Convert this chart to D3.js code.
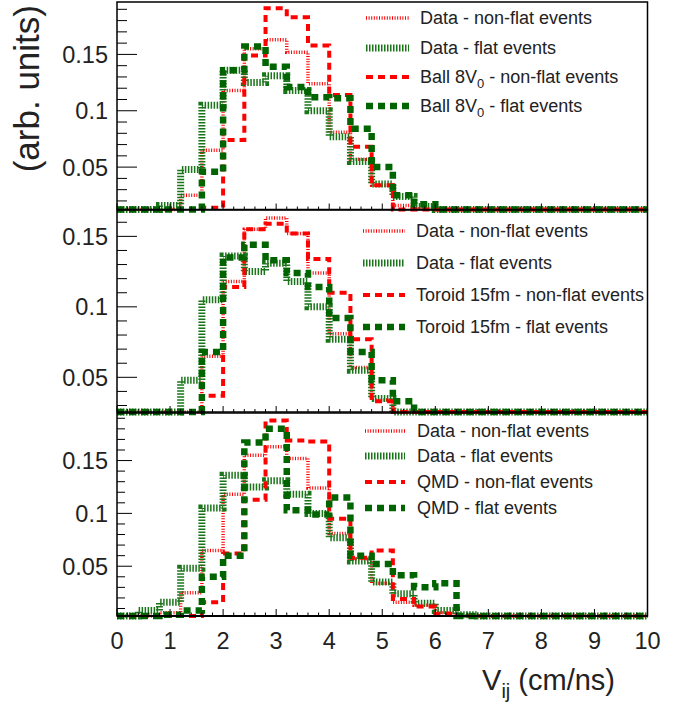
<!DOCTYPE html>
<html>
<head>
<meta charset="utf-8">
<script src="https://cdn.jsdelivr.net/npm/d3@7/dist/d3.min.js"></script>
<style>
  body { margin: 0; background: #fff; }
  svg  { display: block; font-family: "Liberation Sans", Arial, Helvetica, sans-serif; }
</style>
</head>
<body>
<svg id="chart" width="691" height="704"></svg>
<script>
// ── Data (25 bins of 0.4 cm/ns from 0 to 10) ───────────────────────────────
const BIN_WIDTH = 0.4;
const X_DOMAIN  = [0, 10];

const dataNonFlat = [0.001, 0.002, 0.006, 0.025, 0.065, 0.118, 0.155, 0.163, 0.152, 0.124,
                     0.081, 0.057, 0.034, 0.016, 0.013, 0.006, 0.003, 0.001, 0.001, 0.0005,
                     0, 0, 0, 0, 0];
const dataFlat    = [0.002, 0.008, 0.016, 0.048, 0.105, 0.136, 0.125, 0.131, 0.118, 0.100,
                     0.077, 0.055, 0.035, 0.024, 0.015, 0.008, 0.004, 0.002, 0.001, 0.001,
                     0, 0, 0, 0, 0];

const ballNonFlat   = [0, 0, 0.002, 0.006, 0.014, 0.074, 0.149, 0.191, 0.183, 0.158,
                       0.114, 0.068, 0.034, 0.008, 0.003, 0.001, 0, 0, 0, 0, 0, 0, 0, 0, 0];
const ballFlat      = [0.002, 0.003, 0.004, 0.008, 0.046, 0.136, 0.157, 0.139, 0.121, 0.112,
                       0.111, 0.084, 0.050, 0.025, 0.017, 0.004, 0.002, 0.001, 0, 0, 0, 0, 0, 0, 0];

const toroidNonFlat = [0, 0, 0.001, 0.004, 0.037, 0.114, 0.155, 0.159, 0.152, 0.134,
                       0.110, 0.077, 0.033, 0.015, 0.006, 0.002, 0, 0, 0, 0, 0, 0, 0, 0, 0];
const toroidFlat    = [0, 0.001, 0.003, 0.012, 0.068, 0.135, 0.144, 0.133, 0.124, 0.114,
                       0.092, 0.068, 0.048, 0.033, 0.012, 0.004, 0.001, 0, 0, 0, 0, 0, 0, 0, 0];

const qmdNonFlat    = [0, 0, 0.001, 0.002, 0.016, 0.062, 0.113, 0.188, 0.169, 0.168,
                       0.095, 0.058, 0.065, 0.019, 0.012, 0.005, 0.003, 0.001, 0, 0, 0, 0, 0, 0, 0];
const qmdFlat       = [0.001, 0.002, 0.004, 0.008, 0.040, 0.060, 0.167, 0.180, 0.103, 0.099,
                       0.115, 0.060, 0.052, 0.0415, 0.030, 0.034, 0.002, 0.001, 0, 0, 0, 0, 0, 0, 0];

const modelNames   = ["Ball 8V_0", "Toroid 15fm", "QMD"];
const modelNonFlat = [ballNonFlat, toroidNonFlat, qmdNonFlat];
const modelFlat    = [ballFlat, toroidFlat, qmdFlat];

// y ranges of the three pads (pads do not start at zero)
const yDomains    = [[0.0124, 0.1965], [0.0254, 0.1687], [0.0029, 0.195]];
const yMajorTicks = [0.05, 0.1, 0.15];
const yTickLabels = ["0.05", "0.1", "0.15"];
const xMajorTicks = d3.range(0, 11);
const xTickLabels = xMajorTicks.map(String);

// ── Styles ─────────────────────────────────────────────────────────────────
const RED   = "#ff0000";
const GREEN = "#006400";
const STYLE = {
  dataNonFlat:  { color: RED,       width: 3.5, dash: "1,1.6" },
  dataFlat:     { color: "#1a751a", width: 7,   dash: "1.5,1.5" },
  modelNonFlat: { color: RED,       width: 4,   dash: "7,5" },
  modelFlat:    { color: GREEN,     width: 6.5, dash: "7,5" },
};

// ── Layout ─────────────────────────────────────────────────────────────────
const LEFT = 117, RIGHT = 647.5;
const PADS = [
  { top: 2,   bottom: 209.5, yMaj: 20, yMin: 10, xMaj: 6, xMin: 3,
    legY: [18, 48, 77, 106],       legX0: 366, legX1: 409, legTx: 420 },
  { top: 210, bottom: 412,   yMaj: 20, yMin: 10, xMaj: 6, xMin: 3,
    legY: [231, 263, 295, 327],    legX0: 363, legX1: 405, legTx: 416 },
  { top: 413, bottom: 616,   yMaj: 15, yMin: 8,  xMaj: 7, xMin: 3.5,
    legY: [431, 456, 482, 508],    legX0: 365, legX1: 405, legTx: 417 },
];

const svg = d3.select("#chart");
const x = d3.scaleLinear().domain(X_DOMAIN).range([LEFT, RIGHT]);

function histPoints(values) {
  const pts = values.map((v, i) => [i * BIN_WIDTH, v]);
  pts.push([X_DOMAIN[1], values[values.length - 1]]);
  return pts;
}

function drawLegendText(g, lx, ly, label) {
  const t = g.append("text")
    .attr("x", lx).attr("y", ly).attr("dy", "0.36em")
    .attr("font-size", 18).attr("fill", "#222");
  const parts = label.split("_");
  if (parts.length === 2) {
    // subscript handling for "8V_0 - ..."
    const sub = parts[1].slice(0, 1), rest = parts[1].slice(1);
    t.append("tspan").text(parts[0]);
    t.append("tspan").attr("font-size", 13).attr("dy", 5).text(sub);
    t.append("tspan").attr("dy", -5).text(rest);
  } else {
    t.text(label);
  }
}

PADS.forEach((pad, p) => {
  const y = d3.scaleLinear().domain(yDomains[p]).range([pad.bottom, pad.top]).clamp(true);
  const g = svg.append("g");

  // histograms
  const series = [
    { values: dataNonFlat,     style: STYLE.dataNonFlat,  label: "Data - non-flat events" },
    { values: dataFlat,        style: STYLE.dataFlat,     label: "Data - flat events" },
    { values: modelNonFlat[p], style: STYLE.modelNonFlat, label: modelNames[p] + " - non-flat events" },
    { values: modelFlat[p],    style: STYLE.modelFlat,    label: modelNames[p] + " - flat events" },
  ];
  const line = d3.line().x(d => x(d[0])).y(d => y(d[1])).curve(d3.curveStepAfter);

  series.forEach(s => {
    g.append("path")
      .attr("d", line(histPoints(s.values)))
      .attr("fill", "none")
      .attr("stroke", s.style.color)
      .attr("stroke-width", s.style.width)
      .attr("stroke-dasharray", s.style.dash);
  });

  // legend (no border)
  series.forEach((s, i) => {
    g.append("line")
      .attr("x1", pad.legX0).attr("x2", pad.legX1)
      .attr("y1", pad.legY[i]).attr("y2", pad.legY[i])
      .attr("stroke", s.style.color)
      .attr("stroke-width", s.style.width)
      .attr("stroke-dasharray", s.style.dash);
    drawLegendText(g, pad.legTx, pad.legY[i], s.label);
  });

  // frame
  g.append("rect")
    .attr("x", LEFT).attr("y", pad.top)
    .attr("width", RIGHT - LEFT).attr("height", pad.bottom - pad.top)
    .attr("fill", "none").attr("stroke", "#000").attr("stroke-width", 1.5);

  // y ticks
  const yMinor = d3.range(0.01, 0.2, 0.01)
    .filter(v => v >= yDomains[p][0] && v <= yDomains[p][1]);
  g.selectAll(".ymin").data(yMinor).join("line")
    .attr("x1", LEFT).attr("x2", d => LEFT + (yMajorTicks.some(m => Math.abs(m - d) < 1e-6) ? pad.yMaj : pad.yMin))
    .attr("y1", d => y(d)).attr("y2", d => y(d))
    .attr("stroke", "#000").attr("stroke-width", 1);

  g.selectAll(".ylab").data(yMajorTicks).join("text")
    .attr("x", LEFT - 9).attr("y", d => y(d)).attr("dy", "0.36em")
    .attr("text-anchor", "end").attr("font-size", 23.5).attr("fill", "#222")
    .text((d, i) => yTickLabels[i]);

  // x ticks
  const xMinor = d3.range(0, 10.0001, 0.2);
  g.selectAll(".xt").data(xMinor).join("line")
    .attr("x1", d => x(d)).attr("x2", d => x(d))
    .attr("y1", pad.bottom)
    .attr("y2", d => pad.bottom - (Math.abs(d - Math.round(d)) < 1e-6 ? pad.xMaj : pad.xMin))
    .attr("stroke", "#000").attr("stroke-width", 1);

  if (p === PADS.length - 1) {
    g.append("line")
      .attr("x1", LEFT).attr("x2", RIGHT).attr("y1", pad.bottom).attr("y2", pad.bottom)
      .attr("stroke", "#000").attr("stroke-width", 2);
    g.selectAll(".xlab").data(xMajorTicks).join("text")
      .attr("x", d => x(d)).attr("y", pad.bottom + 33)
      .attr("text-anchor", "middle").attr("font-size", 23.5).attr("fill", "#222")
      .text((d, i) => xTickLabels[i]);
  }
});

// ── Axis titles ────────────────────────────────────────────────────────────
const xt = svg.append("text")
  .attr("x", 615).attr("y", 690)
  .attr("text-anchor", "end").attr("font-size", 29).attr("fill", "#222");
xt.append("tspan").text("V");
xt.append("tspan").attr("font-size", 20).attr("dy", 8).text("ij");
xt.append("tspan").attr("dy", -8).text(" (cm/ns)");

svg.append("text")
  .attr("transform", "translate(39,5) rotate(-90)")
  .attr("text-anchor", "end").attr("font-size", 35).attr("fill", "#222")
  .text("(arb. units)");
</script>
</body>
</html>
